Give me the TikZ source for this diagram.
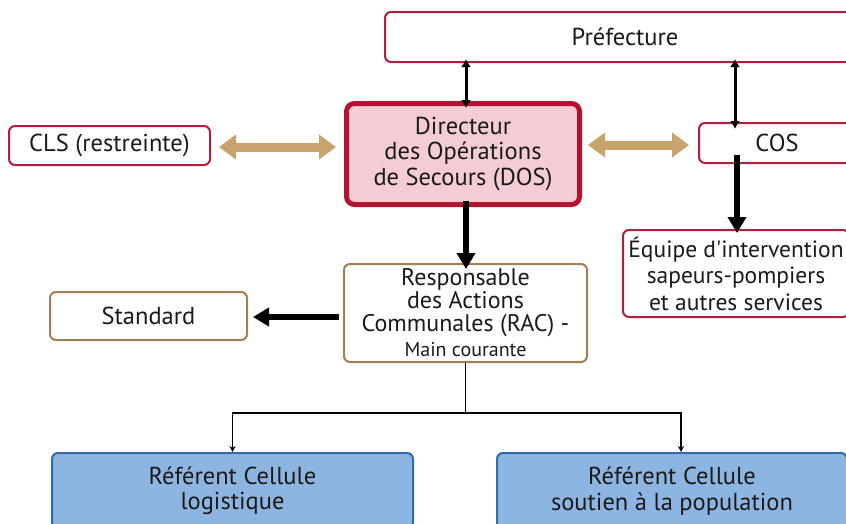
\documentclass[tikz,border=0pt]{standalone}
\usepackage{fontspec}
\setmainfont{PT Sans}
\usetikzlibrary{arrows.meta}
\definecolor{redb}{HTML}{B0203C}
\definecolor{dosb}{HTML}{B0142E}
\definecolor{dosf}{HTML}{F4CCD4}
\definecolor{brownb}{HTML}{A67C58}
\definecolor{bluef}{HTML}{8DB5E2}
\definecolor{blueb}{HTML}{2F6CAA}
\definecolor{tanc}{HTML}{C9A36C}
\definecolor{txt}{HTML}{1A1A1A}
\tikzset{
  box/.style={rectangle, rounded corners=6pt, align=center, text=txt, inner sep=0pt,
    font=\fontsize{24.5}{25.5}\selectfont, line width=2pt, fill=white},
  redbox/.style={box, draw=redb},
  dosbox/.style={box, draw=dosb, fill=dosf, line width=5pt, rounded corners=8pt},
  brownbox/.style={box, draw=brownb},
  bluebox/.style={box, draw=blueb, fill=bluef},
  tanarrow/.style={draw=tanc, line width=9pt, {Triangle[length=17pt,width=24pt]}-{Triangle[length=17pt,width=24pt]}},
  thinarrow/.style={draw=black, line width=3pt, {Latex[length=8pt,width=10pt]}-{Latex[length=8pt,width=10pt]}},
  bigarrow/.style={draw=black, line width=6pt, -{Triangle[length=16pt,width=18pt]}},
  treeline/.style={draw=black, line width=1.5pt},
  treearrow/.style={treeline, -{Stealth[length=6pt,width=6pt]}}
}
\begin{document}
\begin{tikzpicture}[x=1pt,y=-1pt]
\useasboundingbox (0,0) rectangle (846,523);
\clip (0,0) rectangle (846,523);
% nodes
\node[redbox, minimum width=480, minimum height=50] (pref) at (625,37) {Préfecture};
\node[redbox, minimum width=201, minimum height=39] (cls) at (109.5,145.5) {CLS (restreinte)};
\node[dosbox, minimum width=233, minimum height=101] (dos) at (463,154) {Directeur\\des Opérations\\de Secours (DOS)};
\node[redbox, minimum width=156, minimum height=40] (cos) at (777,143) {COS};
\node[redbox, minimum width=226, minimum height=87, font=\fontsize{23.5}{26.5}\selectfont] (equipe) at (736,273.5) {Équipe d\textquotesingle intervention\\sapeurs-pompiers\\et autres services};
\node[brownbox, minimum width=243, minimum height=98, font=\fontsize{24}{23}\selectfont] (rac) at (465.5,313) {Responsable\\des Actions\\Communales (RAC) -\\[2pt]{\fontsize{20}{22}\selectfont Main courante}};
\node[brownbox, minimum width=197, minimum height=48] (std) at (148.5,316) {Standard};
\node[bluebox, minimum width=361, minimum height=76] (refl) at (232.5,491) {Référent Cellule\\logistique};
\node[bluebox, minimum width=350, minimum height=76] (refs) at (672,491) {Référent Cellule\\soutien à la population};
% connectors
\draw[tanarrow] ([xshift=8]cls.east |- 0,147) -- ([xshift=-8]dos.west |- 0,147);
\draw[tanarrow] ([xshift=6]dos.east |- 0,145) -- ([xshift=-9]cos.west |- 0,145);
\draw[thinarrow] ([yshift=4]pref.south -| 466,0) -- ([yshift=-7]dos.north -| 466,0);
\draw[thinarrow] ([yshift=4]pref.south -| 735,0) -- ([yshift=-7]cos.north -| 735,0);
\draw[bigarrow] ([yshift=6]dos.south -| 466,0) -- ([yshift=-6]rac.north -| 466,0);
\draw[bigarrow] ([yshift=9]cos.south -| 737,0) -- ([yshift=-4]equipe.north -| 737,0);
\draw[bigarrow] ([xshift=-4]rac.west |- 0,317) -- ([xshift=5]std.east |- 0,317);
\coordinate (split) at (465.5,413);
\draw[treeline] (rac.south) -- (split);
\draw[treearrow] (split) -| (refl.north);
\draw[treearrow] (split) -| ([xshift=9]refs.north);
\end{tikzpicture}
\end{document}
